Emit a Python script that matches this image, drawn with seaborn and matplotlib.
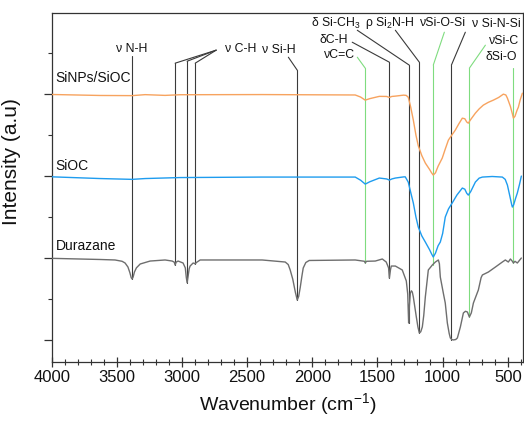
import numpy as np
import pandas as pd
import matplotlib
matplotlib.use("Agg")
import matplotlib.pyplot as plt
from matplotlib.ticker import MultipleLocator
import seaborn as sns

# ---------------- data ----------------
siocnp_w = [4000, 3629, 3383, 3283, 3130, 3015, 2385, 1671, 1630, 1594, 1560, 1486, 1430,
            1409, 1390, 1363, 1300, 1280, 1264, 1245, 1225, 1205, 1187, 1160, 1133, 1100,
            1085, 1072, 1055, 1035, 1003, 980, 956, 930, 903, 875, 849, 830, 815, 803,
            785, 749, 720, 688, 650, 611, 570, 534, 515, 503, 480, 465, 457, 445, 430,
            419, 405, 388]
siocnp_i = [2.996, 2.984, 2.982, 2.994, 2.985, 2.993, 2.995, 2.990, 2.965, 2.927, 2.945,
            2.973, 2.972, 2.960, 2.972, 2.976, 2.988, 2.985, 2.963, 2.840, 2.683, 2.500,
            2.370, 2.250, 2.159, 2.080, 2.040, 2.012, 2.040, 2.120, 2.220, 2.330, 2.439,
            2.500, 2.561, 2.640, 2.707, 2.700, 2.660, 2.646, 2.690, 2.768, 2.820, 2.866,
            2.900, 2.927, 2.960, 3.000, 2.990, 2.951, 2.850, 2.760, 2.707, 2.730, 2.800,
            2.841, 2.930, 3.012]

sioc_w = [4000, 3629, 3383, 3283, 3015, 2385, 1671, 1630, 1594, 1560, 1486, 1430, 1409,
          1390, 1363, 1300, 1287, 1264, 1245, 1225, 1205, 1187, 1160, 1133, 1100, 1085,
          1072, 1055, 1035, 1018, 1000, 980, 955, 927, 890, 849, 830, 815, 803, 785, 749,
          720, 695, 620, 542, 520, 503, 485, 470, 465, 455, 440, 427, 410, 396]
sioc_i = [1.991, 1.970, 1.960, 1.970, 1.982, 1.988, 1.988, 1.950, 1.902, 1.930, 1.976,
          1.965, 1.951, 1.965, 1.976, 1.990, 1.991, 1.927, 1.800, 1.671, 1.500, 1.378,
          1.270, 1.195, 1.100, 1.050, 1.012, 1.060, 1.150, 1.195, 1.300, 1.500, 1.600,
          1.671, 1.770, 1.854, 1.840, 1.790, 1.768, 1.810, 1.927, 1.975, 1.988, 1.995,
          1.988, 1.960, 1.890, 1.760, 1.650, 1.622, 1.650, 1.730, 1.793, 1.900, 2.000]

dura_w = [4000, 3629, 3514, 3460, 3437, 3415, 3400, 3390, 3383, 3375, 3365, 3350, 3321,
          3245, 3130, 3076, 3060, 3053, 3045, 3030, 2992, 2975, 2967, 2961, 2955, 2945,
          2938, 2915, 2905, 2899, 2890, 2861, 2385, 2208, 2185, 2170, 2150, 2130, 2116,
          2105, 2093, 2080, 2070, 2050, 2024, 1671, 1600, 1594, 1585, 1517, 1463, 1433,
          1415, 1409, 1400, 1394, 1363, 1310, 1279, 1268, 1261, 1255, 1248, 1240, 1233,
          1225, 1202, 1190, 1179, 1168, 1156, 1145, 1133, 1110, 1079, 1056, 1033, 1025,
          1018, 995, 980, 964, 950, 941, 930, 918, 900, 887, 864, 841, 825, 810, 795, 780,
          764, 726, 705, 695, 649, 595, 542, 519, 496, 480, 465, 457, 445, 427, 396]
dura_i = [0.996, 0.982, 0.976, 0.960, 0.939, 0.890, 0.820, 0.760, 0.744, 0.770, 0.830,
          0.880, 0.927, 0.963, 0.976, 0.963, 0.950, 0.915, 0.950, 0.963, 0.939, 0.880,
          0.760, 0.699, 0.760, 0.870, 0.902, 0.939, 0.935, 0.927, 0.945, 0.976, 0.976,
          0.951, 0.920, 0.854, 0.740, 0.580, 0.488, 0.530, 0.640, 0.780, 0.878, 0.945,
          0.970, 0.976, 0.960, 0.939, 0.960, 0.963, 0.988, 0.951, 0.880, 0.756, 0.860,
          0.902, 0.902, 0.854, 0.720, 0.560, 0.207, 0.420, 0.573, 0.600, 0.585, 0.524,
          0.280, 0.160, 0.085, 0.100, 0.159, 0.300, 0.524, 0.854, 0.915, 0.951, 0.976,
          0.930, 0.768, 0.573, 0.451, 0.207, 0.080, 0.024, 0.005, 0.000, 0.005, 0.024,
          0.159, 0.329, 0.350, 0.341, 0.280, 0.330, 0.451, 0.610, 0.760, 0.793, 0.829,
          0.890, 0.951, 0.976, 0.951, 0.988, 0.960, 0.939, 0.960, 0.939, 1.000]

series_names = ["SiNPs/SiOC", "SiOC", "Durazane"]
series_colors = ["#F7A35F", "#1E9CEF", "#6E6E6E"]
series_label_x = [3970, 3970, 3965]
series_label_y = [3.20, 2.12, 1.15]

# band annotations
ann_labels = ["ν N-H", "ν C-H", "ν Si-H", "δ Si-CH$_3$", "δC-H", "νC=C",
              "ρ Si$_2$N-H", "νSi-O-Si", "ν Si-N-Si", "νSi-C", "δSi-O"]
ann_text_x = [3390, 2553, 2261, 1823, 1838, 1792, 1407, 997, 587, 526, 549]
ann_text_y = [3.549, 3.549, 3.537, 3.866, 3.659, 3.476, 3.866, 3.866, 3.854, 3.646, 3.451]
ann_start_x = [None, 2738, 2184, 1655, 1694, 1655, 1363, 987, 826, 672, None]
ann_start_y = [None, 3.537, 3.451, 3.780, 3.634, 3.451, 3.780, 3.756, 3.756, 3.598, None]
ann_peak_x = [[3383], [3053, 2961, 2899], [2116], [1256], [1409], [1594], [1179], [1072],
              [933], [795], [457]]
ann_top_y = [[3.463], [3.378, 3.402, 3.378], [3.293], [3.354], [3.390], [3.317], [3.390],
             [3.354], [3.354], [3.317], [3.317]]
ann_bottom_y = [[0.744], [0.915, 0.699, 0.927], [0.488], [0.207], [0.756], [0.939], [0.085],
                [0.915], [0.000], [0.280], [0.939]]
ann_green = [False, False, False, False, False, True, False, True, False, True, True]

# ---------------- figure ----------------
sns.set_style("ticks")
plt.rcParams["font.family"] = ["Liberation Sans", "DejaVu Sans"]
plt.rcParams["mathtext.fontset"] = "custom"
plt.rcParams["mathtext.rm"] = "Liberation Sans"
plt.rcParams["mathtext.it"] = "Liberation Sans:italic"

fig = plt.figure(figsize=(5.24, 4.21), dpi=100)
ax = fig.add_axes([0.0987, 0.140, 0.899, 0.829])

GREEN = "#7FDC7F"
DARK = "#3A3A3A"
for i, lab in enumerate(ann_labels):
    col = GREEN if ann_green[i] else DARK
    for px, ty, by in zip(ann_peak_x[i], ann_top_y[i], ann_bottom_y[i]):
        if ann_start_x[i] is not None:
            ax.plot([ann_start_x[i], px], [ann_start_y[i], ty], color=col, lw=0.8, zorder=1)
        ax.plot([px, px], [ty, by], color=col, lw=0.8, zorder=1)
    ax.text(ann_text_x[i], ann_text_y[i], lab, ha="center", va="center",
            fontsize=8.8, color="#111111")

frames = []
for name, w, y in zip(series_names, [siocnp_w, sioc_w, dura_w], [siocnp_i, sioc_i, dura_i]):
    frames.append(pd.DataFrame({"Wavenumber": w, "Intensity": y, "Sample": name}))
df = pd.concat(frames, ignore_index=True)

sns.lineplot(data=df, x="Wavenumber", y="Intensity", hue="Sample",
             palette=dict(zip(series_names, series_colors)), estimator=None,
             sort=True, legend=False, lw=1.0, ax=ax, zorder=3)
for ln in ax.get_lines():
    ln.set_solid_joinstyle("round")

for name, lx, ly in zip(series_names, series_label_x, series_label_y):
    ax.text(lx, ly, name, ha="left", va="center", fontsize=10, color="#111111")

ax.set_xlim(4000, 385)
ax.set_ylim(-0.27, 3.99)
ax.xaxis.set_major_locator(MultipleLocator(500))
ax.xaxis.set_minor_locator(MultipleLocator(100))
ax.yaxis.set_major_locator(MultipleLocator(1))
ax.yaxis.set_minor_locator(MultipleLocator(0.5))
ax.tick_params(axis="x", which="major", direction="inout", length=7.5, width=0.9,
               labelsize=12, colors="#333333", labelcolor="#111111", pad=2)
ax.tick_params(axis="x", which="minor", direction="inout", length=5, width=0.8,
               colors="#333333")
ax.tick_params(axis="y", which="major", direction="out", length=5.5, width=0.9,
               labelleft=False, colors="#333333")
ax.tick_params(axis="y", which="minor", direction="out", length=3, width=0.8,
               colors="#333333")
for s in ax.spines.values():
    s.set_visible(True)
    s.set_color("#333333")
    s.set_linewidth(0.9)

ax.set_xlabel("Wavenumber (cm$^{-1}$)", fontsize=14, color="#111111", labelpad=4)
ax.set_ylabel("Intensity (a.u)", fontsize=15, color="#111111")
ax.yaxis.set_label_coords(-0.065, 0.575)

fig.savefig("out.png", dpi=100)
